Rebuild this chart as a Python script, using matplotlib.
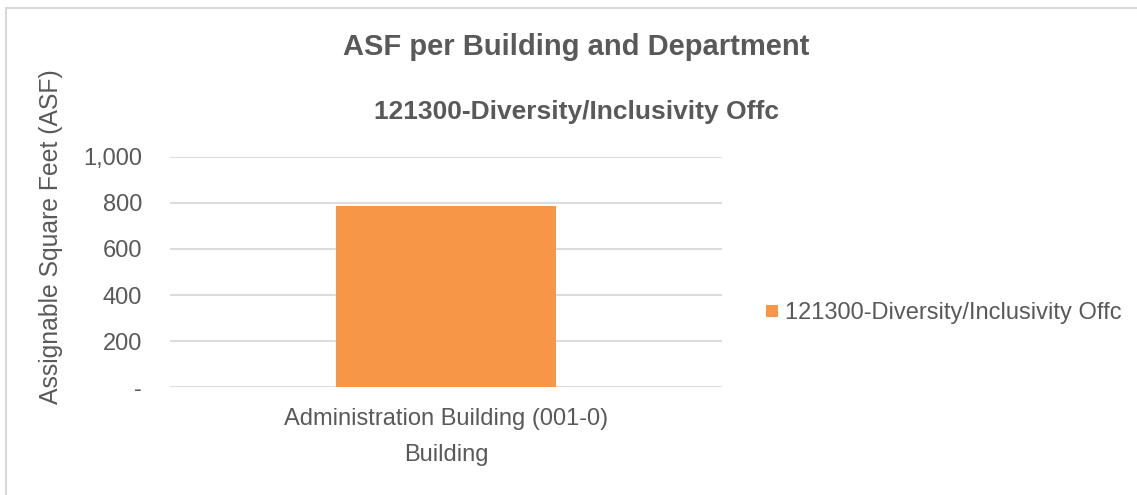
import matplotlib.pyplot as plt
from matplotlib.patches import Rectangle
from matplotlib.ticker import FuncFormatter

plt.rcParams['font.family'] = ['Liberation Sans', 'DejaVu Sans']

buildings = ["Administration Building (001-0)"]
asf = [787]
series_name = "121300-Diversity/Inclusivity Offc"
yticks = [0, 200, 400, 600, 800, 1000]

txt = "#595959"
fig = plt.figure(figsize=(11.37, 4.95), dpi=100)
ax = fig.add_axes([0.1495, 0.218, 0.4855, 0.465])

ax.bar(range(len(buildings)), asf, width=0.4, color="#F79646", label=series_name, zorder=3)
ax.set_xlim(-0.5, len(buildings) - 0.5)
ax.set_ylim(0, 1000)
ax.set_yticks(yticks)
ax.yaxis.set_major_formatter(FuncFormatter(lambda v, p: "-" if v == 0 else f"{int(v):,}"))
ax.set_xticks(range(len(buildings)))
ax.set_xticklabels(buildings)
ax.grid(axis="y", color="#D9D9D9", linewidth=1.3, zorder=0)
for s in ax.spines.values():
    s.set_visible(False)
ax.tick_params(length=0, labelsize=17, colors=txt)
ax.tick_params(axis="y", pad=20)
ax.tick_params(axis="x", pad=15)
ax.set_xlabel("Building", fontsize=17, color=txt, labelpad=10)

fig.text(0.045, 0.522, "Assignable Square Feet (ASF)", rotation=90, ha="center", va="center",
         fontsize=17.8, color=txt)
fig.text(0.5066, 0.905, "ASF per Building and Department", ha="center", va="center",
         fontsize=21, fontweight="bold", color=txt)
fig.text(0.5066, 0.774, series_name, ha="center", va="center",
         fontsize=19, fontweight="bold", color=txt)

leg = fig.legend(loc="center left", bbox_to_anchor=(0.655, 0.367), frameon=False,
                 fontsize=17, handlelength=0.5, handleheight=0.4, handletextpad=0.3)
for t in leg.get_texts():
    t.set_color(txt)
for h in leg.legend_handles:
    h.set_height(h.get_width())

fig.patches.append(Rectangle((0.0057, -0.1), 1.2, 1.083, transform=fig.transFigure,
                             fill=False, edgecolor="#D9D9D9", linewidth=1.5))
fig.savefig("out.png", dpi=100)
